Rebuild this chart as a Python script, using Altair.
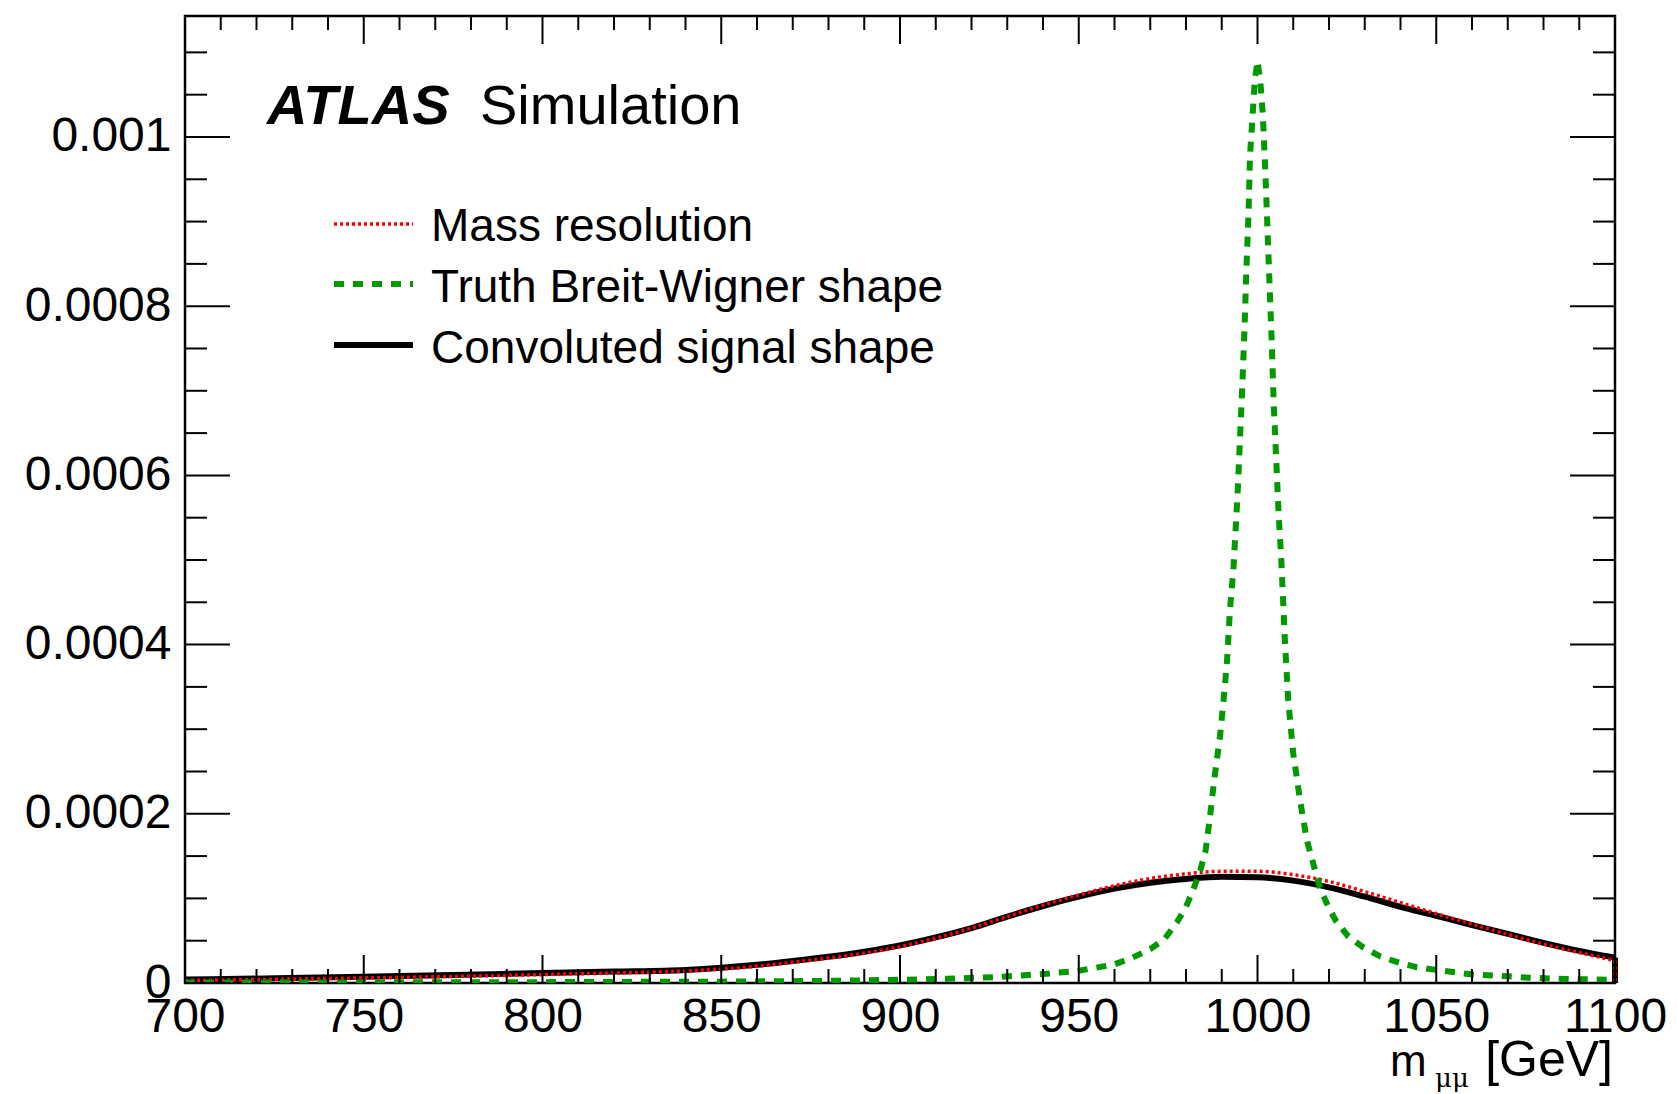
import altair as alt
import pandas as pd

# ---------------- data ----------------
# Convoluted signal shape (black solid)
conv_mass = [700, 725, 750, 775, 800, 820, 840, 850, 860, 870, 880, 890, 900, 910, 920,
             930, 940, 950, 960, 970, 980, 990, 1000, 1010, 1020, 1030, 1040, 1050,
             1060, 1070, 1080, 1090, 1100]
conv_val = [4.0e-6, 5.5e-6, 7.5e-6, 9.5e-6, 1.18e-5, 1.35e-5, 1.55e-5, 1.80e-5, 2.15e-5,
            2.60e-5, 3.10e-5, 3.70e-5, 4.45e-5, 5.40e-5, 6.50e-5, 7.85e-5, 9.10e-5,
            1.02e-4, 1.115e-4, 1.185e-4, 1.23e-4, 1.255e-4, 1.25e-4, 1.21e-4, 1.13e-4,
            1.02e-4, 9.0e-5, 7.95e-5, 6.85e-5, 5.80e-5, 4.75e-5, 3.80e-5, 3.0e-5]

# Mass resolution (red dotted)
res_mass = [700, 750, 800, 850, 870, 900, 910, 920, 930, 940, 950, 960, 970, 980, 990,
            1000, 1010, 1020, 1030, 1040, 1050, 1060, 1070, 1080, 1090, 1100]
res_val = [3.0e-6, 6.0e-6, 1.0e-5, 1.65e-5, 2.45e-5, 4.30e-5, 5.30e-5, 6.50e-5, 7.85e-5,
           9.20e-5, 1.04e-4, 1.15e-4, 1.235e-4, 1.29e-4, 1.32e-4, 1.32e-4, 1.28e-4,
           1.20e-4, 1.08e-4, 9.5e-5, 8.2e-5, 6.95e-5, 5.75e-5, 4.6e-5, 3.6e-5, 2.65e-5]

# Truth Breit-Wigner shape (green dashed)
bw_mass = [700, 750, 800, 850, 880, 900, 913, 927, 941, 950, 960, 965, 970, 974, 977.5,
           980, 982, 984, 985.5, 986.7, 988, 989.5, 990.5, 991.5, 992.3, 993.3, 994.4,
           995.1, 995.8, 996.4, 996.9, 997.5, 997.9, 998.6, 999.2, 1000, 1000.8, 1001.5,
           1002.2, 1002.8, 1003.4, 1004, 1004.5, 1005.2, 1005.9, 1006.6, 1007.7, 1008.6,
           1010, 1011.9, 1013.8, 1016.1, 1017.5, 1019.8, 1022, 1025.4, 1029.5, 1034.3,
           1040, 1044.5, 1050, 1060, 1068, 1076, 1086, 1100]
bw_val = [5.0e-7, 7.0e-7, 1.0e-6, 1.6e-6, 2.5e-6, 3.8e-6, 5.0e-6, 7.0e-6, 1.1e-5, 1.45e-5,
          2.2e-5, 3.0e-5, 4.0e-5, 5.2e-5, 7.2e-5, 9.0e-5, 1.10e-4, 1.33e-4, 1.57e-4,
          1.96e-4, 2.44e-4, 2.91e-4, 3.34e-4, 3.82e-4, 4.41e-4, 4.92e-4, 5.76e-4, 6.43e-4,
          7.10e-4, 7.77e-4, 8.44e-4, 9.11e-4, 9.78e-4, 1.023e-3, 1.065e-3, 1.090e-3,
          1.065e-3, 1.025e-3, 9.58e-4, 8.90e-4, 8.23e-4, 7.56e-4, 6.89e-4, 6.22e-4,
          5.55e-4, 5.05e-4, 4.01e-4, 3.34e-4, 2.71e-4, 2.16e-4, 1.69e-4, 1.33e-4, 1.13e-4,
          9.0e-5, 7.3e-5, 5.5e-5, 4.24e-5, 3.15e-5, 2.34e-5, 1.87e-5, 1.55e-5, 1.01e-5,
          8.5e-6, 6.2e-6, 4.8e-6, 3.8e-6]

legend_labels = ["Mass resolution", "Truth Breit-Wigner shape", "Convoluted signal shape"]

x_major = [700, 750, 800, 850, 900, 950, 1000, 1050, 1100]
x_minor = [v for v in range(710, 1100, 10) if v % 50 != 0]
y_major = [0, 0.0002, 0.0004, 0.0006, 0.0008, 0.001]
y_minor = [0.00005, 0.0001, 0.00015, 0.00025, 0.0003, 0.00035, 0.00045, 0.0005, 0.00055,
           0.00065, 0.0007, 0.00075, 0.00085, 0.0009, 0.00095, 0.00105, 0.0011]

# ---------------- layout / style ----------------
W, H = 1430, 967
FONT = "Liberation Sans"
RED, GREEN = "#ff0000", "#009900"
RED_STYLE = dict(color=RED, strokeWidth=3.5, strokeDash=[3, 3])
GREEN_STYLE = dict(color=GREEN, strokeWidth=6, strokeDash=[10, 9])
BLACK_STYLE = dict(color="black", strokeWidth=6)

xscale = alt.Scale(domain=[700, 1100], nice=False, zero=False)
yscale = alt.Scale(domain=[0, 0.001143], nice=False, zero=False)

x_axis = alt.Axis(values=x_major, format="d", labelFontSize=48, labelFont=FONT,
                  labelColor="black", labelPadding=10, ticks=False, domain=False,
                  grid=False, title=None, labelOverlap=False, labelFlush=False,
                  labelBound=False)
y_axis = alt.Axis(values=y_major, format=".4~f", labelFontSize=48, labelFont=FONT,
                  labelColor="black", labelPadding=14, ticks=False, domain=False,
                  grid=False, title=None, labelOverlap=False, labelFlush=False,
                  labelBound=False)


def X(field):
    return alt.X(field, type="quantitative", scale=xscale, axis=x_axis, title=None)


def Y(field):
    return alt.Y(field, type="quantitative", scale=yscale, axis=y_axis, title=None)


def curve(mass, val, interp, style):
    df = pd.DataFrame({"mass": mass, "value": val})
    return alt.Chart(df).mark_line(clip=True, interpolate=interp, **style).encode(
        x=X("mass"), y=Y("value"))


def edge_drop(mass, val, style):
    # ROOT closes the function at the right edge of the range down to zero
    df = pd.DataFrame({"mass": [mass[-1], mass[-1]], "value": [val[-1], 0.0]})
    return alt.Chart(df).mark_line(clip=False, **style).encode(x=X("mass"), y=Y("value"))


black = curve(conv_mass, conv_val, "monotone", BLACK_STYLE)
black_drop = edge_drop(conv_mass, conv_val, BLACK_STYLE)
red = curve(res_mass, res_val, "monotone", RED_STYLE)
red_drop = edge_drop(res_mass, res_val, RED_STYLE)
green = curve(bw_mass, bw_val, "linear", GREEN_STYLE)


# inside ticks on all four sides
def xticks(vals, length):
    df = pd.DataFrame({"v": vals})
    base = alt.Chart(df).mark_rule(color="black", strokeWidth=2)
    return [base.encode(x=X("v"), y=alt.value(H), y2=alt.value(H - length)),
            base.encode(x=X("v"), y=alt.value(0), y2=alt.value(length))]


def yticks(vals, length):
    df = pd.DataFrame({"v": vals})
    base = alt.Chart(df).mark_rule(color="black", strokeWidth=2)
    return [base.encode(y=Y("v"), x=alt.value(0), x2=alt.value(length)),
            base.encode(y=Y("v"), x=alt.value(W), x2=alt.value(W - length))]


ticks = xticks(x_major, 28) + xticks(x_minor, 14) + yticks(y_major, 45) + yticks(y_minor, 22)

one = pd.DataFrame({"a": [0]})


def text(t, x, y, size, align="left", **kw):
    return alt.Chart(one).mark_text(text=t, align=align, baseline="alphabetic",
                                    fontSize=size, font=kw.pop("font", FONT),
                                    color="black", **kw).encode(
        x=alt.value(x), y=alt.value(y))


labels = [
    text("ATLAS", 82, 108, 56, fontWeight="bold", fontStyle="italic"),
    text("Simulation", 295, 108, 56),
    text(legend_labels[0], 246, 225, 46),
    text(legend_labels[1], 246, 286, 46),
    text(legend_labels[2], 246, 347, 46),
    text("m", 1205, 1060, 44),
    text("μμ", 1250, 1071, 26, font="DejaVu Serif"),
    text("[GeV]", 1428, 1060, 50, align="right"),
]


def sample(y, style):
    return alt.Chart(one).mark_rule(**style).encode(
        x=alt.value(149), x2=alt.value(228), y=alt.value(y))


samples = [
    sample(208, RED_STYLE),
    sample(268, GREEN_STYLE),
    sample(329, BLACK_STYLE),
]

chart = alt.layer(black, black_drop, red, red_drop, green, *ticks, *samples, *labels).properties(
    width=W, height=H,
    autosize=alt.AutoSizeParams(type="none"),
    padding={"left": 185, "top": 16, "right": 62, "bottom": 111},
    background="white",
).configure_view(stroke="black", strokeWidth=2.5)

chart.save("out.html", embed_options={"renderer": "svg", "actions": False})
